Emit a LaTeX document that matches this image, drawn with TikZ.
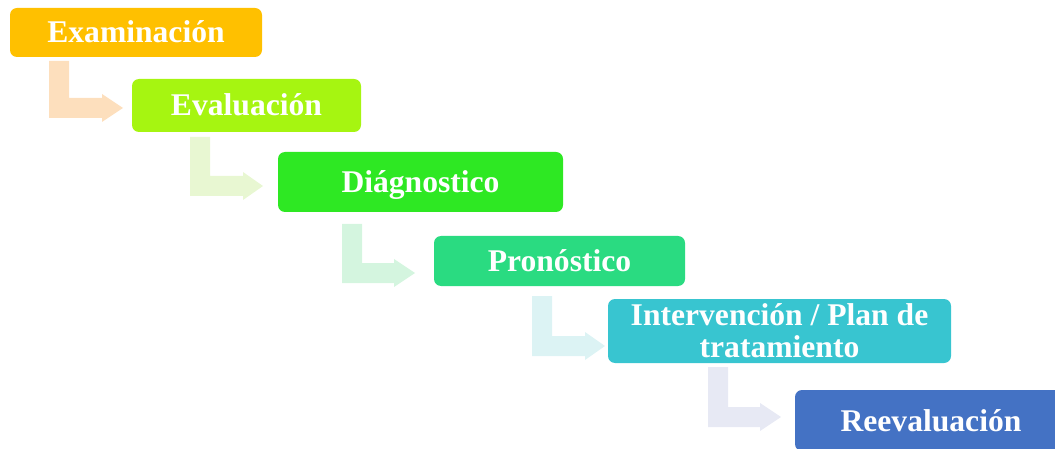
\documentclass[tikz,border=0pt]{standalone}
\usepackage{fontspec}
\setmainfont{Liberation Serif}
\definecolor{c1}{HTML}{FFC000}
\definecolor{c2}{HTML}{A6F511}
\definecolor{c3}{HTML}{2EE823}
\definecolor{c4}{HTML}{2ADB81}
\definecolor{c5}{HTML}{38C5D0}
\definecolor{c6}{HTML}{4472C4}
\definecolor{a1}{HTML}{FDDFBD}
\definecolor{a2}{HTML}{E8F7D2}
\definecolor{a3}{HTML}{D4F5DF}
\definecolor{a4}{HTML}{DCF3F4}
\definecolor{a5}{HTML}{E7E9F4}
\newcommand\bentarrow[6]{%
  \fill[#1] (#2,#3) -- (#2+20,#3) -- (#2+20,#4-20) -- (#5,#4-20) -- (#5,#4-24)
    -- (#6,#4-10) -- (#5,#4+4) -- (#5,#4) -- (#2,#4) -- cycle;}
\begin{document}
\begin{tikzpicture}[x=1pt,y=-1pt,
  stepbox/.style={rectangle, rounded corners=7pt, inner sep=0pt, text=white,
    font=\fontsize{31.6}{32}\selectfont\bfseries, align=center},
  oneline/.style={text height=21pt, text depth=0pt}]
\useasboundingbox (0,0) rectangle (1055,449);
\clip (0,0) rectangle (1055,449);
\bentarrow{a1}{49}{61}{118}{102}{123}
\bentarrow{a2}{190}{137}{196}{243}{263}
\bentarrow{a3}{342}{224}{283}{394}{415}
\bentarrow{a4}{532}{296}{356}{585}{605}
\bentarrow{a5}{708}{367}{427}{760}{781}
\node[stepbox, oneline, fill=c1, minimum width=252pt, minimum height=49pt] (n1) at (136,32.5) {Examinación};
\node[stepbox, oneline, fill=c2, minimum width=229pt, minimum height=53pt] (n2) at (246.5,105.5) {Evaluación};
\node[stepbox, oneline, fill=c3, minimum width=285pt, minimum height=60pt] (n3) at (420.5,182) {Diágnostico};
\node[stepbox, oneline, fill=c4, minimum width=251pt, minimum height=50pt] (n4) at (559.5,261) {Pronóstico};
\node[stepbox, fill=c5, minimum width=343pt, minimum height=64pt] (n5) at (779.5,331) {Intervención / Plan de\\tratamiento};
\node[stepbox, oneline, fill=c6, minimum width=272pt, minimum height=61pt] (n6) at (931,420.5) {Reevaluación};
\end{tikzpicture}
\end{document}
